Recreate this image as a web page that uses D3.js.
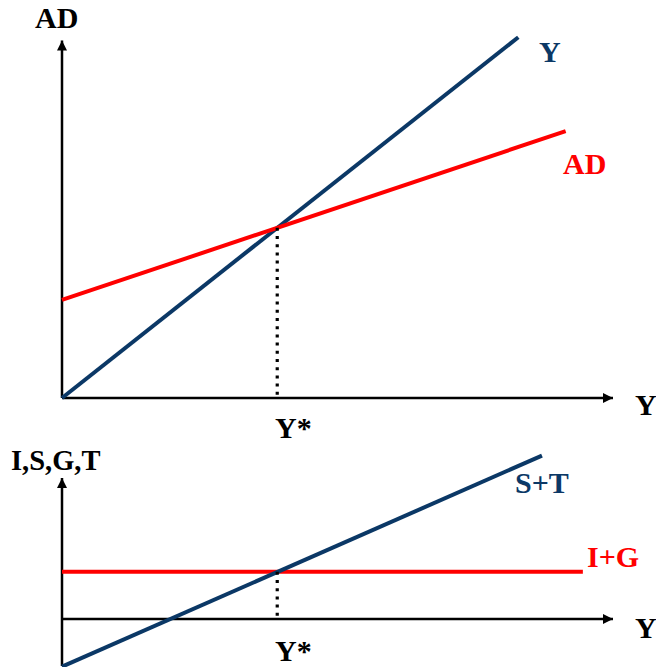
<!DOCTYPE html>
<html>
<head>
<meta charset="utf-8">
<script src="https://cdn.jsdelivr.net/npm/d3@7"></script>
<style>
  html, body { margin: 0; padding: 0; background: #fff; }
  svg { display: block; }
  text { font-family: "Liberation Serif", "Times New Roman", serif; font-weight: bold; }
</style>
</head>
<body>
<svg id="chart" width="656" height="667"></svg>
<script>
// Keynesian cross: output Y against aggregate demand, and the matching
// leakages/injections view below it.
const yStar = 100;                       // equilibrium output
const outputRange = [0, 212];            // 45-degree line Y = AD
const adIntercept = 57.6;                // autonomous spending
const adSlope = (yStar - adIntercept) / yStar;
const adRange = [0, 234];

const injections = 28;                   // I + G (flat)
const leakIntercept = -28;               // S + T at Y = 0
const leakSlope = (injections - leakIntercept) / yStar;
const leakRange = [0, 223];
const injRange = [0, 242];

const labels = {
  topAxisY: "AD", axisX: "Y", yLine: "Y", adLine: "AD", star: "Y*",
  botAxisY: "I,S,G,T", leakLine: "S+T", injLine: "I+G"
};

const svg = d3.select("#chart");
const navy = "#0b3866";
const red = "#ff0000";

const x = d3.scaleLinear().domain([0, 256]).range([62, 613]);
const yTop = d3.scaleLinear().domain([0, 210]).range([398, 40.6]);
const yBot = d3.scaleLinear().domain([-27.6, 0, 83.6]).range([666, 619, 478]);

// arrowhead marker
const defs = svg.append("defs");
defs.append("marker")
  .attr("id", "arrow").attr("viewBox", "0 0 10 10")
  .attr("refX", 10).attr("refY", 5)
  .attr("markerWidth", 11).attr("markerHeight", 10)
  .attr("markerUnits", "userSpaceOnUse")
  .attr("orient", "auto")
  .append("path").attr("d", "M0,0 L10,5 L0,10 Z").attr("fill", "#000");

function axes(yScale, yMax, yMin) {
  svg.append("line")
    .attr("x1", x(0)).attr("y1", yScale(yMin))
    .attr("x2", x(0)).attr("y2", yScale(yMax))
    .attr("stroke", "#000").attr("stroke-width", 2.5)
    .attr("marker-end", "url(#arrow)");
  svg.append("line")
    .attr("x1", x(0)).attr("y1", yScale(0))
    .attr("x2", x(256)).attr("y2", yScale(0))
    .attr("stroke", "#000").attr("stroke-width", 2.5)
    .attr("marker-end", "url(#arrow)");
}

const line = (ys) => d3.line().x(d => x(d[0])).y(d => ys(d[1]));

// dotted drop line from an intersection to the output axis
function dropLine(yScale, fromValue) {
  svg.append("line")
    .attr("x1", x(yStar)).attr("x2", x(yStar))
    .attr("y1", yScale(fromValue)).attr("y2", yScale(0))
    .attr("stroke", "#000").attr("stroke-width", 3.2)
    .attr("stroke-dasharray", "3 5.2");
}

// ---- top panel ----
axes(yTop, 210, 0);

svg.append("path")
  .attr("d", line(yTop)(outputRange.map(v => [v, v])))
  .attr("stroke", navy).attr("stroke-width", 4).attr("fill", "none");

svg.append("path")
  .attr("d", line(yTop)(adRange.map(v => [v, adIntercept + adSlope * v])))
  .attr("stroke", red).attr("stroke-width", 4).attr("fill", "none");

dropLine(yTop, yStar);

// ---- bottom panel ----
axes(yBot, 83.6, -27.6);

svg.append("path")
  .attr("d", line(yBot)(injRange.map(v => [v, injections])))
  .attr("stroke", red).attr("stroke-width", 4).attr("fill", "none");

svg.append("path")
  .attr("d", line(yBot)(leakRange.map(v => [v, leakIntercept + leakSlope * v])))
  .attr("stroke", navy).attr("stroke-width", 4).attr("fill", "none");

dropLine(yBot, injections);

// ---- text ----
const txt = (s, px, py, fill, size) => svg.append("text")
  .attr("x", px).attr("y", py).attr("fill", fill)
  .attr("font-size", size || 30).text(s);

txt(labels.topAxisY, 35, 28, "#000");
txt(labels.axisX, 635, 415, "#000");
txt(labels.yLine, 539, 62, navy);
txt(labels.adLine, 563, 174, red);
txt(labels.star, 275, 438, "#000");

txt(labels.botAxisY, 11, 470, "#000", 28.5);
txt(labels.leakLine, 515, 493, navy);
txt(labels.injLine, 587, 567, red);
txt(labels.axisX, 635, 638, "#000");
txt(labels.star, 275, 661, "#000");
</script>
</body>
</html>
